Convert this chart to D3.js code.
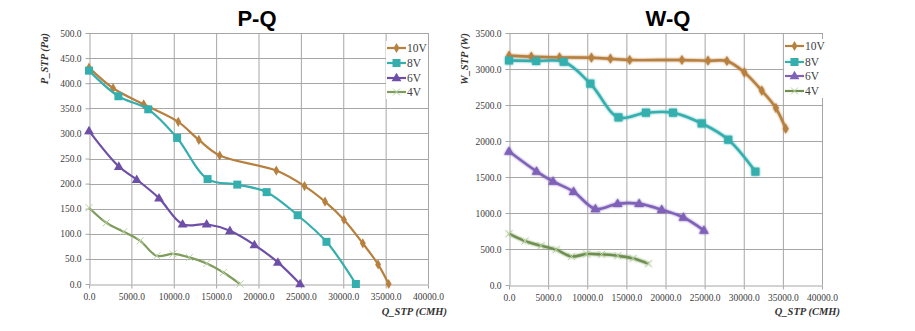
<!DOCTYPE html>
<html><head><meta charset="utf-8">
<script src="https://cdn.jsdelivr.net/npm/d3@7"></script>
<style>
body{margin:0;background:#fff;}
svg{display:block;}
</style></head>
<body>
<svg id="c" width="915" height="331"></svg>
<script>
// ---------- DATA ----------
const seriesNames = ["10V","8V","6V","4V"];
const seriesColors = ["#B8803F","#35AEAE","#6E4FA8","#7E9C5A"];
const seriesColorsW = ["#B8803F","#35AEAE","#7F62B8","#6E8F4E"];
const seriesMarkers = ["diamond","square","triangle","cross"];

const q10 = [0, 2850, 6450, 10530, 12960, 15420, 22100, 25430, 27850, 30080, 32310, 34110, 35360];
const q8  = [0, 3470, 6990, 10400, 13990, 17500, 20960, 24620, 28020, 31490];
const q6  = [0, 3520, 5630, 8260, 11040, 13880, 16630, 19520, 22290, 24910];
const q4  = [0, 2040, 4090, 6030, 8000, 9920, 11840, 13900, 15860, 17820];

const p10 = [431, 390, 358, 323, 287, 256, 226, 195, 164, 128, 81, 39, 0];
const p8  = [425, 374, 348, 291, 209, 198, 183, 137, 84, 0];
const p6  = [305, 234, 208, 171, 119, 119, 106, 78, 43, 0];
const p4  = [152, 122, 104, 86, 56, 60, 53, 41, 23, 0];

const w10 = [3185, 3171, 3161, 3157, 3143, 3125, 3125, 3115, 3111, 2953, 2699, 2458, 2171];
const w8  = [3119, 3111, 3101, 2796, 2328, 2393, 2393, 2244, 2018, 1574];
const w6  = [1856, 1578, 1439, 1296, 1056, 1129, 1129, 1046, 939, 758];
const w4  = [712, 611, 546, 490, 397, 431, 425, 407, 369, 296];

const xTicks = [0,5000,10000,15000,20000,25000,30000,35000,40000];
const pTicks = [0,50,100,150,200,250,300,350,400,450,500];
const wTicks = [0,500,1000,1500,2000,2500,3000,3500];

const charts = [
  {title:"P-Q", ytitle:"P_STP (Pa)", xtitle:"Q_STP (CMH)",
   left:89, right:428, top:33, bottom:284, ymax:500, yTicks:pTicks,
   ys:[p10,p8,p6,p4], colors:seriesColors, titleX:257, ytitleX:48, xtitleX:447, legX:387, legY:[48,63,78,92], glow:false},
  {title:"W-Q", ytitle:"W_STP (W)", xtitle:"Q_STP (CMH)",
   left:509, right:822, top:33, bottom:285, ymax:3500, yTicks:wTicks,
   ys:[w10,w8,w6,w4], colors:seriesColorsW, titleX:668, ytitleX:468, xtitleX:840, legX:785, legY:[46,62,76,91], glow:true}
];
const qs = [q10,q8,q6,q4];
const SERIF = "'Liberation Serif','Times New Roman',serif";

const svg = d3.select("#c");
const defs = svg.append("defs");
const f = defs.append("filter").attr("id","glow").attr("x","-10%").attr("y","-10%").attr("width","120%").attr("height","120%");
f.append("feGaussianBlur").attr("stdDeviation",1.3).attr("result","b");
const fm = f.append("feMerge");
fm.append("feMergeNode").attr("in","b");
fm.append("feMergeNode").attr("in","SourceGraphic");

function marker(g, type, x, y, color){
  if(type==="diamond"){
    g.append("path").attr("d",d3.symbol(d3.symbolDiamond, 30)()).attr("transform",`translate(${x},${y})`).attr("fill",color);
  } else if(type==="square"){
    g.append("rect").attr("x",x-4).attr("y",y-4).attr("width",8).attr("height",8).attr("fill",color);
  } else if(type==="triangle"){
    g.append("path").attr("d",d3.symbol(d3.symbolTriangle, 42)()).attr("transform",`translate(${x},${y+0.5})`).attr("fill",color);
  } else {
    g.append("path").attr("d",`M${x-3.5},${y-3.5}L${x+3.5},${y+3.5}M${x-3.5},${y+3.5}L${x+3.5},${y-3.5}`)
      .attr("stroke","#B9CFA6").attr("stroke-width",1).attr("fill","none");
  }
}

charts.forEach(c=>{
  const x = d3.scaleLinear().domain([0,40000]).range([c.left,c.right]);
  const y = d3.scaleLinear().domain([0,c.ymax]).range([c.bottom,c.top]);
  const g = svg.append("g");

  g.append("g").selectAll("line").data(xTicks.slice(1)).join("line")
    .attr("x1",d=>x(d)+0.5).attr("x2",d=>x(d)+0.5).attr("y1",c.top).attr("y2",c.bottom)
    .attr("stroke","#A6A6A6").attr("stroke-width",1);
  g.append("g").selectAll("line").data(c.yTicks.slice(1)).join("line")
    .attr("x1",c.left).attr("x2",c.right).attr("y1",d=>Math.round(y(d))+0.5).attr("y2",d=>Math.round(y(d))+0.5)
    .attr("stroke","#A6A6A6").attr("stroke-width",1);

  const fmt = d=>d3.format(".1f")(d);
  const ax = g.append("g").attr("transform",`translate(0,${Math.round(c.bottom)+0.5})`)
    .call(d3.axisBottom(x).tickValues(xTicks).tickFormat(fmt).tickSize(4).tickSizeOuter(0));
  const ay = g.append("g").attr("transform",`translate(${c.left+0.5},0)`)
    .call(d3.axisLeft(y).tickValues(c.yTicks).tickFormat(fmt).tickSize(4).tickSizeOuter(0));
  [ax,ay].forEach(a=>{
    a.attr("font-family",null).attr("font-size",null);
    a.select(".domain").attr("stroke","#A6A6A6");
    a.selectAll(".tick line").attr("stroke","#A6A6A6");
    a.selectAll(".tick text").style("font-family",SERIF).style("font-size","9.5px").attr("fill","#404040");
  });
  ax.selectAll(".tick text").attr("dy","0.85em");
  ay.selectAll(".tick text").attr("dx","-1");

  const line = d3.line().x(d=>x(d[0])).y(d=>y(d[1])).curve(d3.curveCatmullRom.alpha(0.5));
  const sg = g.append("g");
  if(c.glow) sg.attr("filter","url(#glow)");
  c.ys.forEach((ys,i)=>{
    const pts = qs[i].map((q,k)=>[q,ys[k]]);
    sg.append("path").attr("d",line(pts)).attr("fill","none")
      .attr("stroke",c.colors[i]).attr("stroke-width",c.glow?2.4:2.2);
    pts.forEach(p=>marker(sg, seriesMarkers[i], x(p[0]), y(p[1]), c.colors[i]));
  });

  const lg = g.append("g");
  lg.append("rect").attr("x",c.legX-1).attr("y",c.legY[0]-7).attr("width",42).attr("height",c.legY[3]-c.legY[0]+14).attr("fill","#fff");
  seriesNames.forEach((n,i)=>{
    const ly = c.legY[i];
    lg.append("line").attr("x1",c.legX).attr("x2",c.legX+19).attr("y1",ly).attr("y2",ly)
      .attr("stroke",c.colors[i]).attr("stroke-width",2.2);
    marker(lg, seriesMarkers[i], c.legX+9.5, ly, c.colors[i]);
    lg.append("text").attr("x",c.legX+20).attr("y",ly).attr("dy","0.35em")
      .style("font-family",SERIF).style("font-size","11.5px").attr("fill","#404040").text(n);
  });

  g.append("text").attr("x",c.titleX).attr("y",26).attr("text-anchor","middle")
    .style("font-family","'Liberation Sans',Arial,sans-serif").attr("font-weight","bold").style("font-size","22px").attr("fill","#000").text(c.title);
  g.append("text").attr("transform",`translate(${c.ytitleX},${c.top}) rotate(-90)`).attr("text-anchor","end")
    .style("font-family",SERIF).attr("font-weight","bold").attr("font-style","italic")
    .style("font-size","10.5px").attr("fill","#333").text(c.ytitle);
  g.append("text").attr("x",c.xtitleX).attr("y",315).attr("text-anchor","end")
    .style("font-family",SERIF).attr("font-weight","bold").attr("font-style","italic")
    .style("font-size","10.5px").attr("fill","#333").text(c.xtitle);
});
</script>
</body></html>
